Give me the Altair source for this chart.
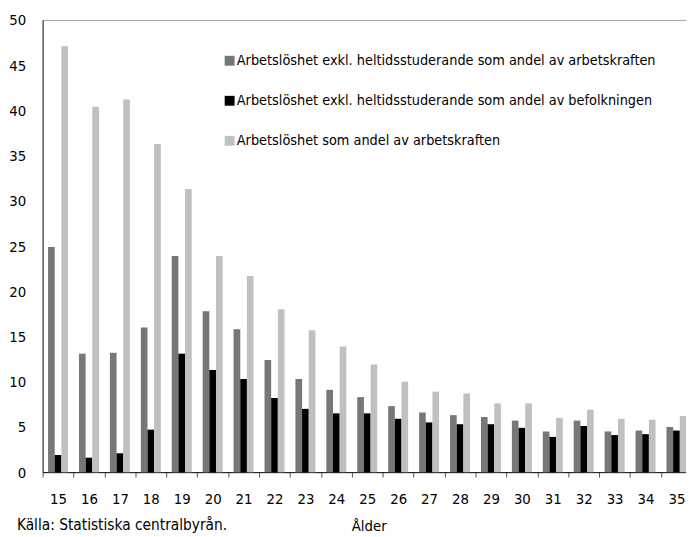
import altair as alt
import pandas as pd

ages = list(range(15, 36))
series_names = [
    "Arbetslöshet exkl. heltidsstuderande som andel av arbetskraften",
    "Arbetslöshet exkl. heltidsstuderande som andel av befolkningen",
    "Arbetslöshet som andel av arbetskraften",
]
excl_labour = [24.9, 13.1, 13.2, 16.0, 23.9, 17.8, 15.8, 12.4, 10.3, 9.1, 8.3,
               7.3, 6.6, 6.3, 6.1, 5.7, 4.5, 5.7, 4.5, 4.6, 5.0]
excl_pop = [1.9, 1.6, 2.1, 4.7, 13.1, 11.3, 10.3, 8.2, 7.0, 6.5, 6.5,
            5.9, 5.5, 5.3, 5.3, 4.9, 3.9, 5.1, 4.1, 4.2, 4.6]
total_labour = [47.1, 40.4, 41.2, 36.3, 31.3, 23.9, 21.7, 18.0, 15.7, 13.9, 11.9,
                10.0, 8.9, 8.7, 7.6, 7.6, 6.0, 6.9, 5.9, 5.8, 6.2]
colors = ["#777777", "#000000", "#c0c0c0"]
y_ticks = [0, 5, 10, 15, 20, 25, 30, 35, 40, 45, 50]
source_text = "Källa: Statistiska centralbyrån."
x_title = "Ålder"

rows = []
for name, vals in zip(series_names, [excl_labour, excl_pop, total_labour]):
    for a, v in zip(ages, vals):
        rows.append({"age": a, "series": name, "value": v})
df = pd.DataFrame(rows)

FONT = "DejaVu Sans Condensed, Liberation Sans Narrow, sans-serif"

bars = alt.Chart(df).mark_bar().encode(
    x=alt.X(
        "age:O",
        sort=ages,
        scale=alt.Scale(range=[0, 657], paddingInner=0, paddingOuter=0),
        axis=alt.Axis(
            title=x_title,
            labelAngle=0,
            tickBand="extent",
            tickSize=5,
            tickColor="#555555",
            domainColor="#000000",
            labelPadding=15,
            labelFontSize=15,
            labelColor="#000000",
            titleFontSize=15,
            titleFontWeight="normal",
            titleColor="#000000",
            titlePadding=12,
            titleX=330,
        ),
    ),
    xOffset=alt.XOffset(
        "series:N",
        sort=series_names,
        scale=alt.Scale(paddingOuter=0.82, paddingInner=0),
    ),
    y=alt.Y(
        "value:Q",
        scale=alt.Scale(domain=[0, 50], nice=False),
        axis=alt.Axis(
            title=None,
            values=y_ticks,
            ticks=False,
            labelPadding=17,
            labelFontSize=15,
            labelColor="#000000",
            domainColor="#000000",
            grid=True,
            gridColor="#a6a6a6",
            gridOpacity=alt.condition("datum.value == 50", alt.value(1), alt.value(0)),
        ),
    ),
    color=alt.Color(
        "series:N",
        sort=series_names,
        scale=alt.Scale(domain=series_names, range=colors),
        legend=alt.Legend(
            title=None,
            orient="none",
            legendX=182,
            legendY=34,
            symbolType="square",
            symbolSize=100,
            symbolStrokeWidth=0,
            labelFontSize=14.5,
            labelColor="#000000",
            labelLimit=0,
            labelOffset=0,
            rowPadding=25.5,
        ),
    ),
)

source = alt.Chart(pd.DataFrame({"t": [source_text]})).mark_text(
    align="left", baseline="middle", fontSize=15.5, font=FONT, color="#000000"
).encode(text="t:N", x=alt.value(-26), y=alt.value(511))

chart = alt.layer(bars, source).properties(
    width=651,
    height=457.5,
    autosize=alt.AutoSizeParams(type="none"),
    padding={"left": 35, "top": 9, "right": 0, "bottom": 64},
).configure(font=FONT).configure_view(stroke=None)

chart.save("out.html", embed_options={"renderer": "svg", "actions": False})
